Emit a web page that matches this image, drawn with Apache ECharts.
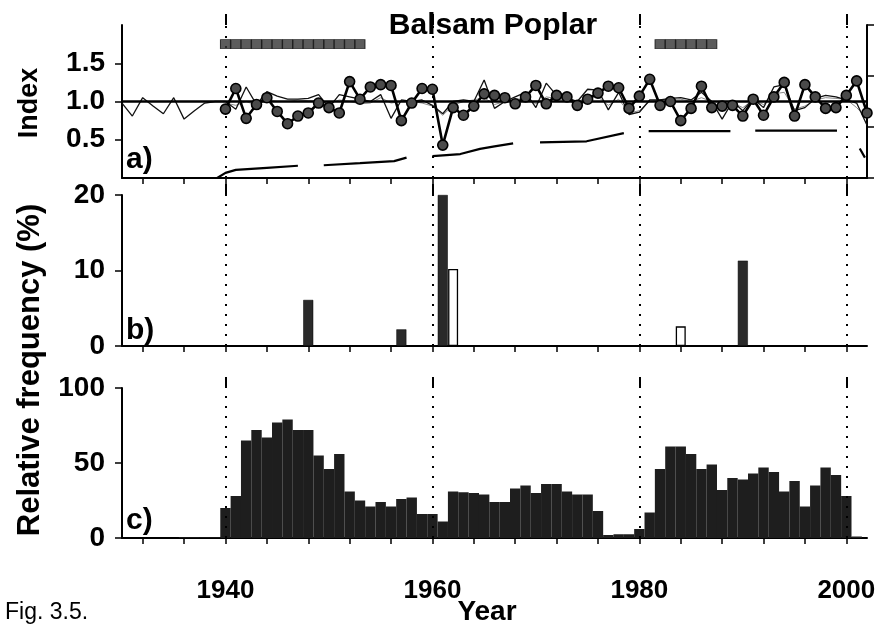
<!DOCTYPE html>
<html><head><meta charset="utf-8">
<script src="https://cdn.jsdelivr.net/npm/echarts@6/dist/echarts.min.js"></script>
<style>html,body{margin:0;padding:0;background:#fff}#c{width:882px;height:631px}</style>
</head><body><div id="c"></div>
<script>
// ---------- data ----------
const years = [1930,1931,1932,1933,1934,1935,1936,1937,1938,1939,
  1940,1941,1942,1943,1944,1945,1946,1947,1948,1949,
  1950,1951,1952,1953,1954,1955,1956,1957,1958,1959,
  1960,1961,1962,1963,1964,1965,1966,1967,1968,1969,
  1970,1971,1972,1973,1974,1975,1976,1977,1978,1979,
  1980,1981,1982,1983,1984,1985,1986,1987,1988,1989,
  1990,1991,1992,1993,1994,1995,1996,1997,1998,1999,
  2000,2001,2002];

// panel a: index series
const indexThin = [0.98,0.81,1.05,0.94,0.84,1.05,0.77,0.88,0.98,1.00,
  1.00,0.90,1.19,0.96,1.13,1.07,1.03,1.03,1.04,1.09,
  0.92,1.09,1.06,1.03,1.00,1.09,0.78,1.02,1.00,1.02,
  0.95,0.84,1.00,1.02,1.00,1.28,0.91,1.00,1.06,1.12,
  0.92,1.24,1.08,1.05,1.00,1.16,1.15,0.89,1.12,0.83,
  0.86,1.02,1.02,1.04,1.05,1.02,1.12,1.00,0.77,1.00,
  0.88,1.04,0.92,1.19,1.22,0.88,0.92,1.04,1.08,1.06,
  1.02,0.98,0.69];
const indexGray = [null,null,null,null,null,null,null,null,null,null,
  0.98,0.95,1.00,0.95,1.02,1.00,1.00,1.02,1.01,1.00,
  0.97,1.02,1.00,0.97,0.98,1.05,0.98,1.00,1.00,0.98,
  0.94,0.82,0.95,1.00,1.02,1.05,0.96,1.00,1.03,1.04,
  0.97,1.06,1.04,1.02,1.00,1.05,1.06,0.95,1.03,0.85,
  0.88,1.00,1.02,1.03,1.03,1.00,1.05,1.00,0.90,0.98,
  0.92,1.02,0.96,1.10,1.12,0.90,0.94,1.02,1.05,1.04,
  1.03,0.92,0.78];
const indexThick = [null,null,null,null,null,null,null,null,null,null,
  0.90,1.17,0.78,0.96,1.05,0.87,0.71,0.81,0.85,0.98,
  0.92,0.85,1.26,1.03,1.19,1.22,1.21,0.75,0.98,1.17,
  1.16,0.43,0.92,0.82,0.94,1.10,1.08,1.05,0.97,1.06,
  1.21,0.97,1.08,1.06,0.95,1.03,1.11,1.20,1.18,0.91,
  1.07,1.29,0.95,1.00,0.75,0.91,1.20,0.92,0.94,0.95,
  0.81,1.03,0.82,1.06,1.25,0.81,1.22,1.06,0.91,0.92,
  1.08,1.27,0.85];
// sample depth segments (right axis), '-' breaks the line
const depthYears  = [1939.2,1940,1941,1944,1947, 1948, 1949.5,1953,1956.3,1957.5, 1959, 1960,1962.7,1964.6,1966,1967.8, 1969, 1970.4,1974.9,1978.5, 1980, 1980.9,1988.8, 1990, 1991.2,1999.1, 2000, 2001.3,2001.8];
const depthValues = [0,0.10,0.16,0.20,0.24, '-', 0.25,0.29,0.33,0.40, '-', 0.43,0.47,0.57,0.62,0.68, '-', 0.70,0.72,0.88, '-', 0.92,0.92, '-', 0.93,0.93, '-', 0.58,0.40];
// pointer-year squares at top
const squareYears = [1940,1941,1942,1943,1944,1945,1946,1947,1948,1949,1950,1951,1952,1953,1982,1983,1984,1985,1986,1987];
const squareLevel = 1.75;

// panel b
const bDarkYears = [1948,1957,1961,1990];
const bDarkValues = [6.1,2.2,20,11.3];
const bWhiteYears = [1962,1984];
const bWhiteValues = [10.2,2.6];

// panel c
const cValues = [0,0,0,0,0,0,0.5,0.5,0.5,0.5,
  20,28,65,72,67,77,79,72,72,55,
  46,56,31,25,21,24,21,26,27,16,
  16,11,31,30.5,30,29,24,24,33,35,
  30,36,36,31,29,29,18,2,2.5,2.5,
  6,17,46,61,61,56,46,49,32,40,
  39,43,47,44,31,38,21,35,47,42,
  28,1,null];

// axes ticks/labels
const xTickYears = [1932,1936,1940,1944,1948,1952,1956,1960,1964,1968,1972,1976,1980,1984,1988,1992,1996,2000];
const xLabelYears = [1940,1960,1980,2000];
const aTicks = [0.5,1.0,1.5];
const bTicks = [0,10,20];
const cTicks = [0,50,100];
const refLines = [1940,1960,1980,2000];

// ---------- chart ----------
const FONT = "'Liberation Sans', Arial, sans-serif";
const NARROW = "'Liberation Sans Narrow', 'Liberation Sans', Arial, sans-serif";
const grids = [
  {left:122, right:15, top:25, height:153},
  {left:122, right:15, top:195, height:151},
  {left:122, right:15, top:388, height:150}
];
grids.forEach(g=>{g.outerBoundsMode='none'; g.containLabel=false;});

function xMinor(gi, labels){
  return {type:'value', gridIndex:gi, min:1930, max:2002,
    axisLine:{show:true, onZero:false, lineStyle:{color:'#000', width:2}},
    axisTick:{show:true, customValues:xTickYears, length:6, lineStyle:{color:'#000', width:1.5}},
    axisLabel:{show:labels, customValues:xLabelYears, color:'#000', fontFamily:NARROW, fontWeight:'bold', fontSize:26, margin:40,
      formatter:v=>String(v)},
    splitLine:{show:false}};
}
function xMajor(gi){
  return {type:'value', gridIndex:gi, min:1930, max:2002,
    axisLine:{show:false, onZero:false},
    axisTick:{show:true, customValues:xLabelYears, length:11, lineStyle:{color:'#000', width:2}},
    axisLabel:{show:false}, splitLine:{show:false}};
}
function yAx(gi, min, max, ticks, fmt){
  return {type:'value', gridIndex:gi, min:min, max:max,
    axisLine:{show:true, onZero:false, lineStyle:{color:'#000', width:2}},
    axisTick:{show:true, customValues:ticks, length:7, lineStyle:{color:'#000', width:1.5}},
    axisLabel:{show:true, customValues:ticks, color:'#000', fontFamily:FONT, fontWeight:'bold', fontSize:28, margin:17, formatter:fmt},
    splitLine:{show:false}};
}

const dotted = {color:'#000', width:2, type:[2,8]};
function vLines(){
  return {silent:true, symbol:'none', label:{show:false}, lineStyle:dotted,
    data: refLines.map(v=>({xAxis:v}))};
}

const option = {
  animation:false,
  backgroundColor:'#fff',
  title:{text:'Balsam Poplar', left:488, top:6, textAlign:'center',
    textStyle:{fontFamily:FONT, fontWeight:'bold', fontSize:30, color:'#000'}},
  grid: grids,
  xAxis:[xMinor(0,false), xMajor(0), xMinor(1,false), xMajor(1), xMinor(2,true), xMajor(2)],
  yAxis:[
    yAx(0, 0, 2, aTicks, v=>v.toFixed(1)),
    {type:'value', gridIndex:0, position:'right', min:0, max:3, interval:1,
      axisLine:{show:true, onZero:false, lineStyle:{color:'#000', width:2}},
      axisTick:{show:true, length:7, lineStyle:{color:'#000', width:1.5}},
      axisLabel:{show:false}, splitLine:{show:false}},
    yAx(1, 0, 20, bTicks, v=>String(v)),
    yAx(2, 0, 100, cTicks, v=>String(v))
  ],
  series:[
    {type:'line', xAxisIndex:0, yAxisIndex:0, data:years.map((y,i)=>[y,indexGray[i]]),
      showSymbol:false, symbol:'none', connectNulls:false, lineStyle:{color:'#8a8a8a', width:1}, z:2,
      markLine:{silent:true, symbol:'none', label:{show:false},
        data:[...refLines.map(v=>({xAxis:v, lineStyle:dotted})), {yAxis:1, lineStyle:{color:'#000', width:2.5, type:'solid'}}]}},
    {type:'line', xAxisIndex:0, yAxisIndex:0, data:years.map((y,i)=>[y,indexThin[i]]),
      showSymbol:false, symbol:'none', connectNulls:false, lineStyle:{color:'#111', width:1.3}, z:3},
    {type:'line', xAxisIndex:0, yAxisIndex:0, data:years.map((y,i)=>[y,indexThick[i]]),
      symbol:'circle', symbolSize:10, showSymbol:true, connectNulls:false,
      lineStyle:{color:'#000', width:2.6}, itemStyle:{color:'#4a4a4a', borderColor:'#000', borderWidth:1.6}, z:5},
    {type:'line', xAxisIndex:0, yAxisIndex:1, data:depthYears.map((y,i)=>[y,depthValues[i]]),
      showSymbol:false, symbol:'none', connectNulls:false, lineStyle:{color:'#000', width:2.2}, z:4},
    {type:'scatter', xAxisIndex:0, yAxisIndex:0, data:squareYears.map(y=>[y,squareLevel]),
      symbol:'rect', symbolSize:[10,9], itemStyle:{color:'#333', borderColor:'#111', borderWidth:1}, z:5},

    {type:'bar', xAxisIndex:2, yAxisIndex:2, data:bDarkYears.map((y,i)=>[y,bDarkValues[i]]),
      barWidth:10, barGap:'-100%', itemStyle:{color:'#2a2a2a', borderColor:'#000', borderWidth:0.5},
      markLine:vLines()},
    {type:'bar', xAxisIndex:2, yAxisIndex:2, data:bWhiteYears.map((y,i)=>[y,bWhiteValues[i]]),
      barWidth:10, barGap:'-100%', itemStyle:{color:'#fff', borderColor:'#000', borderWidth:1.3}},

    {type:'bar', xAxisIndex:4, yAxisIndex:3, data:years.map((y,i)=>[y,cValues[i]]),
      barWidth:10.4, itemStyle:{color:'#1e1e1e'}, markLine:vLines()}
  ],
  graphic:[
    {type:'text', x:30, y:103, rotation:Math.PI/2,
      style:{text:'Index', font:"bold 27px 'Liberation Sans', Arial, sans-serif", fill:'#000', textAlign:'center', textVerticalAlign:'middle', align:'center', verticalAlign:'middle'}},
    {type:'text', x:30, y:370, rotation:Math.PI/2,
      style:{text:'Relative frequency (%)', font:"bold 31px 'Liberation Sans', Arial, sans-serif", fill:'#000', textAlign:'center', textVerticalAlign:'middle', align:'center', verticalAlign:'middle'}},
    {type:'text', x:126, y:160,
      style:{text:'a)', font:"bold 30px 'Liberation Sans', Arial, sans-serif", fill:'#000', textVerticalAlign:'middle', verticalAlign:'middle'}},
    {type:'text', x:126, y:331,
      style:{text:'b)', font:"bold 30px 'Liberation Sans', Arial, sans-serif", fill:'#000', textVerticalAlign:'middle', verticalAlign:'middle'}},
    {type:'text', x:126, y:521,
      style:{text:'c)', font:"bold 30px 'Liberation Sans', Arial, sans-serif", fill:'#000', textVerticalAlign:'middle', verticalAlign:'middle'}},
    {type:'text', x:487, y:612,
      style:{text:'Year', font:"bold 28px 'Liberation Sans', Arial, sans-serif", fill:'#000', textAlign:'center', textVerticalAlign:'middle', align:'center', verticalAlign:'middle'}},
    {type:'text', x:5, y:613,
      style:{text:'Fig. 3.5.', font:"23px 'Liberation Sans', Arial, sans-serif", fill:'#000', textVerticalAlign:'middle', verticalAlign:'middle'}}
  ]
};
const chart = echarts.init(document.getElementById('c'), null, {renderer:'canvas'});
chart.setOption(option);
</script>
</body></html>
